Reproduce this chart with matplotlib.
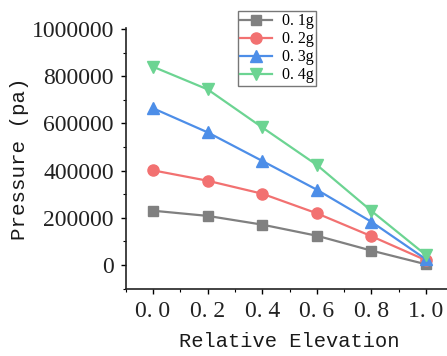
import matplotlib
matplotlib.use("Agg")
import matplotlib.pyplot as plt
from matplotlib.ticker import MultipleLocator

# data
elevation = [0.0, 0.2, 0.4, 0.6, 0.8, 1.0]
p_01g = [230000, 208000, 171000, 124000, 61000, 3000]
p_02g = [401000, 357000, 302000, 219000, 122000, 20000]
p_03g = [664000, 562000, 441000, 319000, 183000, 24000]
p_04g = [840000, 744000, 583000, 424000, 229000, 42000]
series_labels = ["0. 1g", "0. 2g", "0. 3g", "0. 4g"]
xtick_vals = [0.0, 0.2, 0.4, 0.6, 0.8, 1.0]
xtick_labels = ["0. 0", "0. 2", "0. 4", "0. 6", "0. 8", "1. 0"]
ytick_vals = [0, 200000, 400000, 600000, 800000, 1000000]

W, H = 447, 356
fig = plt.figure(figsize=(W / 100, H / 100), dpi=100)

# axes placed in pixel terms (right edge runs past the figure like the original)
left, right, top, bottom = 125.7, 453.3, 28, 289
ax = fig.add_axes([left / W, 1 - bottom / H, (right - left) / W, (bottom - top) / H])

styles = [
    ("#808080", "s", 7),
    ("#f27171", "o", 8),
    ("#4d8ee8", "^", 8.5),
    ("#6cd492", "v", 8.5),
]
for vals, lab, (c, m, ms) in zip([p_01g, p_02g, p_03g, p_04g], series_labels, styles):
    ax.plot(elevation, vals, color=c, marker=m, markersize=ms, linewidth=1.6, label=lab)

ax.set_xlim(-0.1, 1.1)
ax.set_ylim(-101700, 1004000)
ax.set_xticks(xtick_vals)
ax.set_xticklabels(xtick_labels)
ax.set_yticks(ytick_vals)
ax.set_yticklabels([str(v) for v in ytick_vals])
ax.xaxis.set_minor_locator(MultipleLocator(0.1))
ax.yaxis.set_minor_locator(MultipleLocator(100000))

for s in ["top", "right"]:
    ax.spines[s].set_visible(False)
for s in ["left", "bottom"]:
    ax.spines[s].set_linewidth(1.2)
    ax.spines[s].set_color("#222222")

ax.tick_params(which="major", direction="out", length=3.5, width=1, pad=5)
ax.tick_params(which="minor", direction="out", length=2, width=0.8)
for t in ax.get_xticklabels() + ax.get_yticklabels():
    t.set_family("Liberation Serif")
    t.set_fontsize(17)
    t.set_color("#222222")

ax.set_xlabel("Relative Elevation", family="Liberation Mono", fontsize=14.7,
              color="#1a1a1a", labelpad=7)
ax.set_ylabel("Pressure (pa)", family="Liberation Mono", fontsize=15,
              color="#1a1a1a", labelpad=2)

leg = ax.legend(loc="upper left", bbox_to_anchor=(238 / W, 1 - 11 / H),
                bbox_transform=fig.transFigure,
                prop={"family": "Liberation Serif", "size": 11.5},
                handlelength=2.0, handletextpad=0.6, labelspacing=0.12,
                borderpad=0.15, borderaxespad=0, fancybox=False, framealpha=1)
leg.get_frame().set_edgecolor("#777777")
leg.get_frame().set_linewidth(1)

fig.savefig("out.png", dpi=100)
